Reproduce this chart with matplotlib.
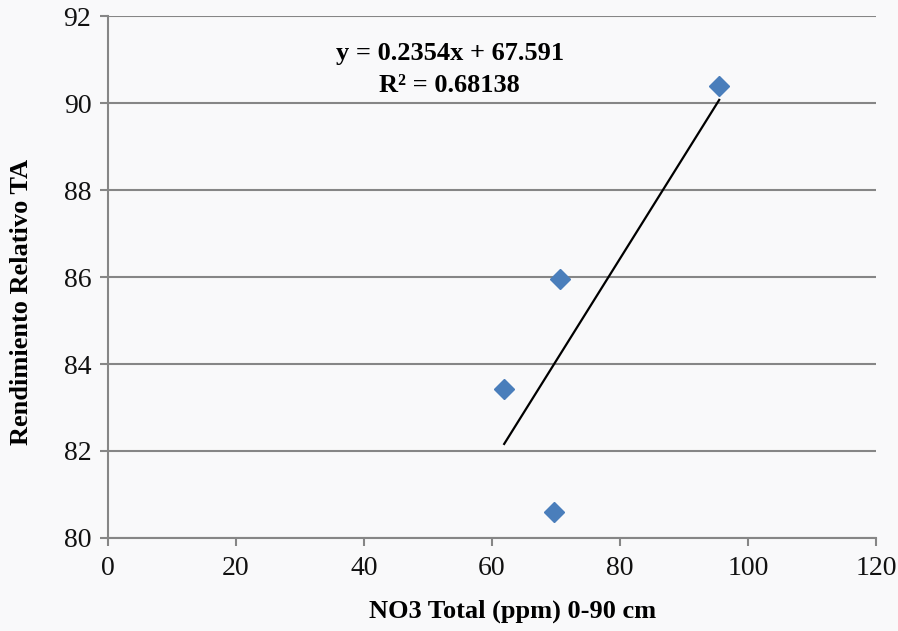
import numpy as np
import matplotlib
matplotlib.use("Agg")
from matplotlib import pyplot as plt

## data
no3_total = [95.5, 70.6, 61.9, 69.7]
rend_rel = [90.4, 85.95, 83.43, 80.6]
slope = 0.2354
intercept = 67.591
r2 = 0.68138

plt.rcParams['font.family'] = ['Liberation Serif', 'DejaVu Serif']

fig = plt.figure(figsize=(8.98, 6.31), dpi=100, facecolor='#f9f9fa')
ax = fig.add_axes([0.1203, 0.1474, 0.8552, 0.8272])
ax.set_facecolor('none')

grid_col = '#868686'

## trend line over the range of the data
xs = np.array([min(no3_total), max(no3_total)])
ax.plot(xs, slope * xs + intercept, color='black', lw=1.6, zorder=3)

ax.plot(no3_total, rend_rel, linestyle='none', marker='D', ms=10,
        color='#4a7ebb', markeredgecolor='#4a7ebb', zorder=4)

ax.set_xlim(0, 120)
ax.set_ylim(80, 92)
ax.set_xticks(np.arange(0, 121, 20))
ax.set_yticks(np.arange(80, 93, 2))
ax.yaxis.grid(True, color=grid_col, lw=1.5)
ax.set_axisbelow(True)

for s in ['top', 'right']:
    ax.spines[s].set_visible(False)
for s in ['left', 'bottom']:
    ax.spines[s].set_color(grid_col)
    ax.spines[s].set_linewidth(1.5)

ax.tick_params(axis='both', direction='out', length=6, width=1.5, color=grid_col,
               labelsize=20, labelcolor='#111111')
ax.tick_params(axis='x', pad=7)
ax.tick_params(axis='y', pad=6)

ax.set_xlabel('NO3 Total (ppm) 0-90 cm', fontsize=19, fontweight='bold')
ax.set_ylabel('Rendimiento Relativo TA', fontsize=19, fontweight='bold')
ax.xaxis.set_label_coords(0.527, -0.118)
ax.yaxis.set_label_coords(-0.098, 0.452)

ax.text(53.4, 90.76, 'y = %.4fx + %.3f\nR² = %.5f' % (slope, intercept, r2),
        ha='center', va='center', fontsize=19, fontweight='bold',
        linespacing=1.5, color='black')

plt.savefig('out.png', dpi=100, facecolor=fig.get_facecolor())
